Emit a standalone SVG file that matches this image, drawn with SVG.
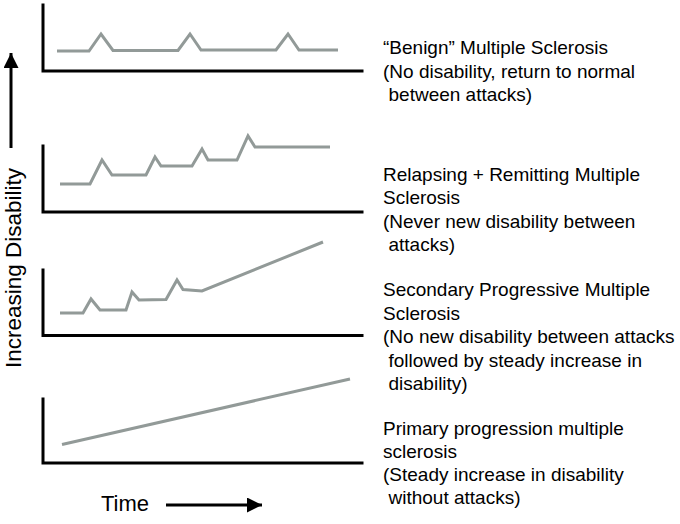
<svg xmlns="http://www.w3.org/2000/svg" width="680" height="524" viewBox="0 0 680 524">
<style>
.axis{fill:none;stroke:#000;stroke-width:3;stroke-linecap:square;stroke-linejoin:miter}
.curve{fill:none;stroke:#929a98;stroke-width:3;stroke-linejoin:miter;stroke-linecap:butt}
.lbl{font-family:"Liberation Sans",Arial,sans-serif;font-size:19px;fill:#000}
.big{font-family:"Liberation Sans",Arial,sans-serif;font-size:22px;fill:#000}
.arr{fill:none;stroke:#000;stroke-width:3}
</style>
<defs>
<marker id="head" viewBox="0 0 10 10" refX="10" refY="5" markerWidth="24" markerHeight="15" markerUnits="userSpaceOnUse" orient="auto">
<path d="M0,0 L10,5 L0,10 Z" fill="#000"/>
</marker>
</defs>
<rect width="680" height="524" fill="#fff"/>
<g id="benign">
<path class="axis" d="M43,5 V71 H362"/>
<polyline class="curve" points="57,51 89,51 101,34 113,50.5 178,50.5 190,34 201,50 276,50 288,34 299,50 338,50"/>
<text class="lbl" x="383" y="54">“Benign” Multiple Sclerosis</text>
<text class="lbl" x="383" y="78">(No disability, return to normal</text>
<text class="lbl" x="388.5" y="101">between attacks)</text>
</g>
<g id="relapsing">
<path class="axis" d="M43,146 V212 H362"/>
<polyline class="curve" points="60,184 90,184 102,160 112,175 146,175 155,157 161,166 192,166 202,149 208,160 237,160 248,136 255,147 330,147"/>
<text class="lbl" x="383" y="181">Relapsing + Remitting Multiple</text>
<text class="lbl" x="383" y="204">Sclerosis</text>
<text class="lbl" x="383" y="228">(Never new disability between</text>
<text class="lbl" x="388.5" y="251">attacks)</text>
</g>
<g id="secondary">
<path class="axis" d="M43,270 V335.5 H362"/>
<polyline class="curve" points="60,313 83,313 91,299 100,310 126,310 132,292 139,300 166,299.5 177,280 183,289.5 202,291 323,242"/>
<text class="lbl" x="383" y="296">Secondary Progressive Multiple</text>
<text class="lbl" x="383" y="320">Sclerosis</text>
<text class="lbl" x="383" y="343">(No new disability between attacks</text>
<text class="lbl" x="388.5" y="367">followed by steady increase in</text>
<text class="lbl" x="388.5" y="390">disability)</text>
</g>
<g id="primary">
<path class="axis" d="M43,399 V463 H362"/>
<line class="curve" x1="62" y1="444.5" x2="350" y2="379"/>
<text class="lbl" x="383" y="435">Primary progression multiple</text>
<text class="lbl" x="383" y="458">sclerosis</text>
<text class="lbl" x="383" y="481">(Steady increase in disability</text>
<text class="lbl" x="388.5" y="504">without attacks)</text>
</g>
<g id="connectors">
<line class="arr" x1="11" y1="148" x2="11" y2="53" marker-end="url(#head)"/>
<line class="arr" x1="166" y1="505" x2="262" y2="505" marker-end="url(#head)"/>
</g>
<g id="axis-labels">
<text class="big" transform="translate(20.5,268) rotate(-90)" text-anchor="middle" style="font-size:22.5px">Increasing Disability</text>
<text class="big" x="101" y="511">Time</text>
</g>
</svg>
